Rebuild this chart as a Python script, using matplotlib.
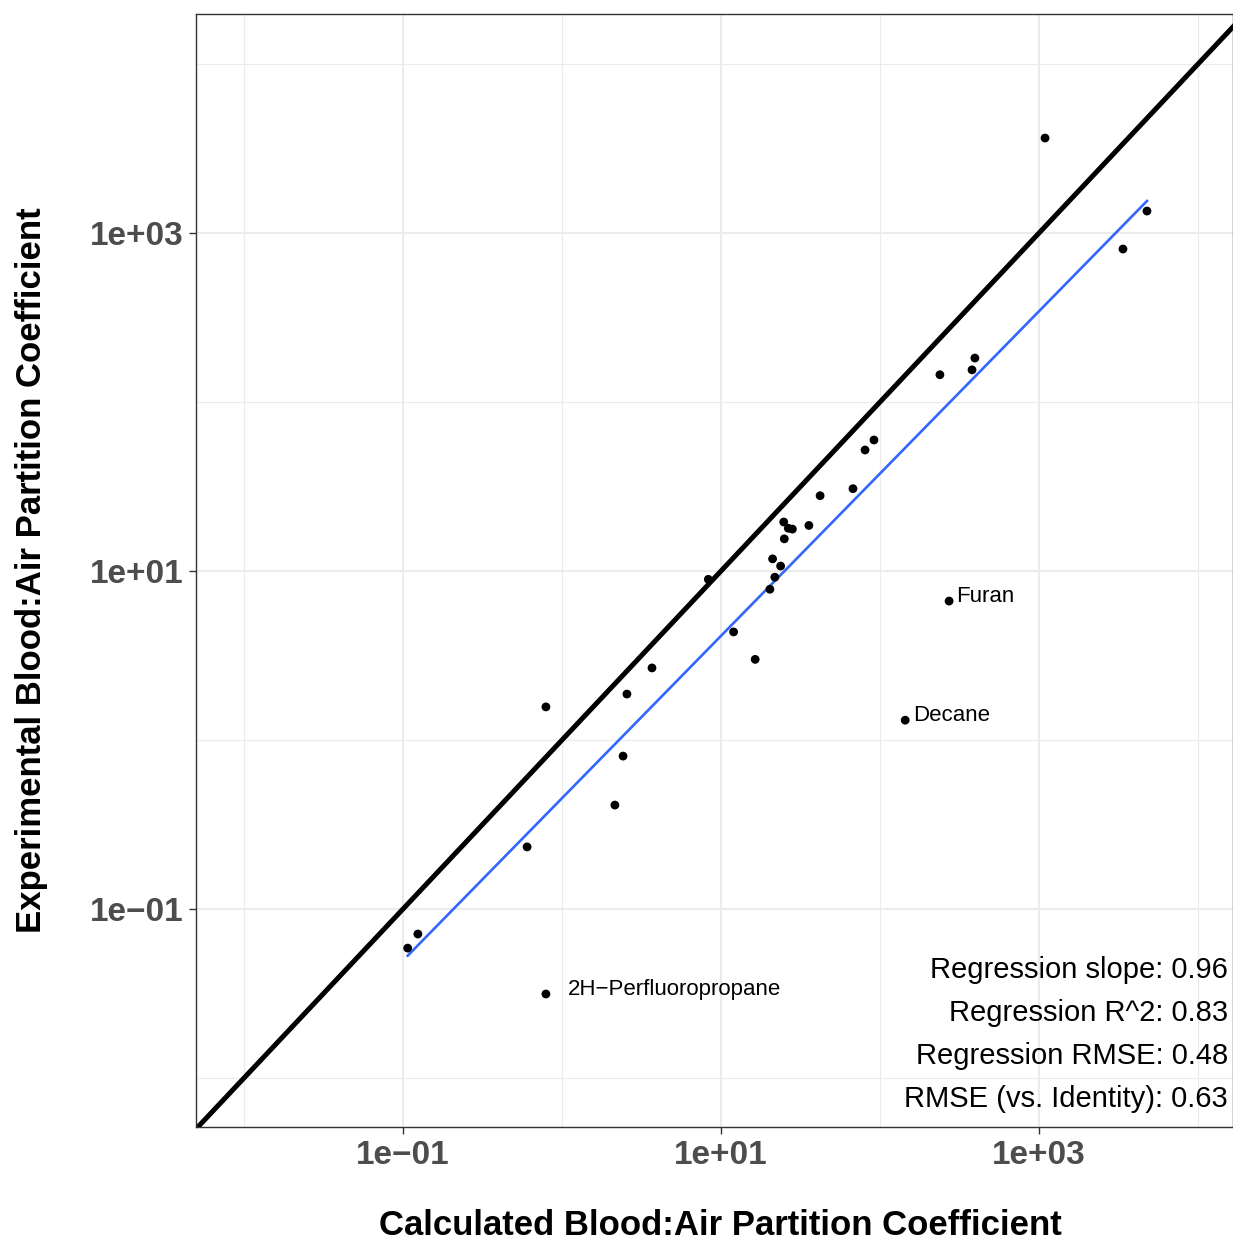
import matplotlib
matplotlib.use("Agg")
import matplotlib.pyplot as plt
import matplotlib.ticker as mticker
import numpy as np

plt.rcParams['font.family'] = ['Liberation Sans', 'DejaVu Sans']

# calculated vs experimental blood:air partition coefficients
calc = [1091, 4775, 3373, 395, 379, 238, 91.6, 80.5, 67.6, 42.0, 35.7, 24.8, 26.5,
        28.1, 25.0, 21.1, 23.7, 21.8, 20.3, 8.32, 12.0, 16.4, 3.68, 2.56, 0.792,
        2.42, 2.15, 0.603, 0.124, 0.107, 0.792, 272, 144]
expt = [3648, 1349, 804, 182, 155, 145, 59.6, 52.0, 30.7, 27.9, 18.6, 19.5, 17.9,
        17.7, 15.5, 11.8, 10.7, 9.19, 7.80, 8.93, 4.36, 3.00, 2.67, 1.87, 1.57,
        0.803, 0.412, 0.233, 0.0711, 0.0587, 0.0314, 6.64, 1.31]
labels = [""] * 30 + ["2H\u2212Perfluoropropane", "Furan", "Decane"]
label_dx = [0] * 30 + [16, 5, 6]

stats = ["Regression slope: 0.96", "Regression R^2: 0.83",
         "Regression RMSE: 0.48", "RMSE (vs. Identity): 0.63"]

major_ticks = [1e-1, 1e1, 1e3]
tick_labels = ["1e\u221201", "1e+01", "1e+03"]
minor_ticks = [1e-2, 1e0, 1e2, 1e4]

calc = np.array(calc)
expt = np.array(expt)

fig = plt.figure(figsize=(12.33, 12.41), dpi=100)
ax = fig.add_axes([196/1233, 1 - 1127/1241, 1 - 196/1233, (1127 - 14)/1241])
ax.set_xscale('log')
ax.set_yscale('log')
ax.set_xlim(10**-2.302, 10**4.22)
ax.set_ylim(10**-2.29, 10**4.296)

ax.grid(which='major', color='#EBEBEB', lw=1.5, zorder=0)
ax.grid(which='minor', color='#EBEBEB', lw=0.8, zorder=0)
ax.set_axisbelow(True)

ax.axline((1, 1), (10, 10), color='black', lw=3.6, zorder=2)

# linear fit in log space
lx, ly = np.log10(calc), np.log10(expt)
b, a = np.polyfit(lx, ly, 1)
xs = np.array([lx.min(), lx.max()])
ax.plot(10**xs, 10**(a + b*xs), color='#3366FF', lw=1.9, zorder=3)

ax.scatter(calc, expt, s=40, color='black', zorder=4, edgecolors='none')

for x, y, t, dx in zip(calc, expt, labels, label_dx):
    if t:
        ax.annotate(t, (x, y), xytext=(dx, 3.5), textcoords='offset points',
                    fontsize=16, ha='left', va='center', color='black')

for i, s in enumerate(stats):
    ax.text(0.995, 0.141 - i*0.0385, s, transform=ax.transAxes, ha='right',
            va='center', fontsize=21, color='black')

ax.xaxis.set_major_locator(mticker.FixedLocator(major_ticks))
ax.yaxis.set_major_locator(mticker.FixedLocator(major_ticks))
ax.xaxis.set_minor_locator(mticker.FixedLocator(minor_ticks))
ax.yaxis.set_minor_locator(mticker.FixedLocator(minor_ticks))
ax.xaxis.set_major_formatter(mticker.FixedFormatter(tick_labels))
ax.yaxis.set_major_formatter(mticker.FixedFormatter(tick_labels))
ax.xaxis.set_minor_formatter(mticker.NullFormatter())
ax.yaxis.set_minor_formatter(mticker.NullFormatter())
ax.tick_params(which='minor', length=0)
ax.tick_params(which='major', length=5, width=1, color='#333333',
               labelsize=24, labelcolor='#4D4D4D', pad=4)
for lab in ax.get_xticklabels() + ax.get_yticklabels():
    lab.set_fontweight('bold')

for sp in ax.spines.values():
    sp.set_color('#333333')
    sp.set_linewidth(1)

ax.set_xlabel("Calculated Blood:Air Partition Coefficient", fontsize=25,
              fontweight='bold')
ax.set_ylabel("Experimental Blood:Air Partition Coefficient", fontsize=25,
              fontweight='bold', labelpad=30)
ax.xaxis.set_label_coords(0.506, -0.074)

fig.savefig("out.png", dpi=100)
